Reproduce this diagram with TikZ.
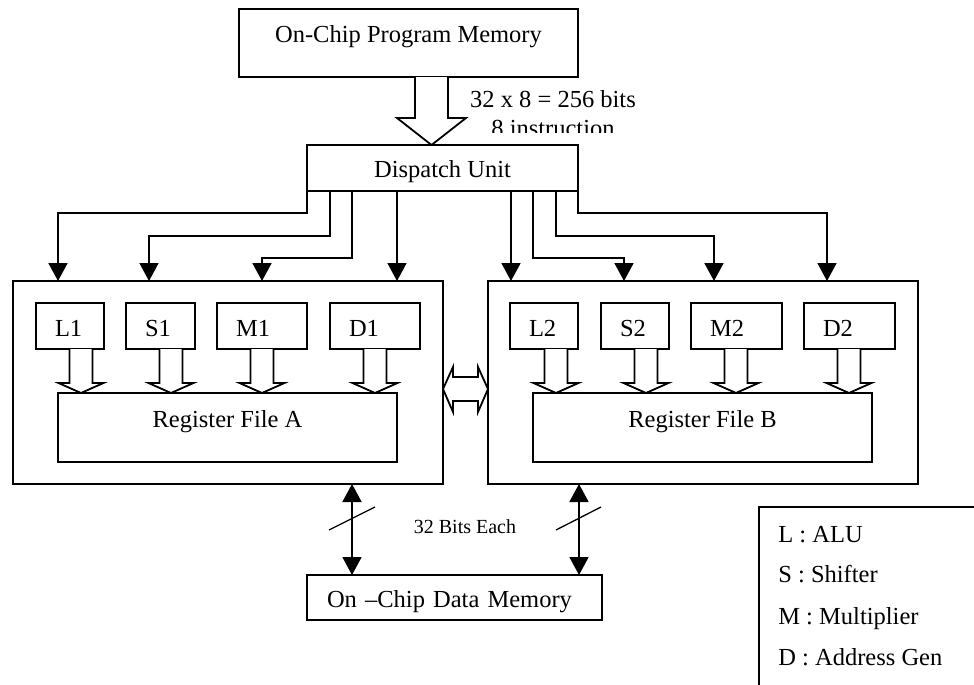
\documentclass[tikz,border=0pt]{standalone}
\usepackage{fontspec}
\setmainfont{Liberation Serif}
\usetikzlibrary{arrows.meta,calc}
\newcommand\hdown[3]{\draw[hollow] (#1-11.5,#2) -- (#1-11.5,#3-10) -- (#1-22.5,#3-10) -- (#1,#3) -- (#1+22.5,#3-10) -- (#1+11.5,#3-10) -- (#1+11.5,#2);}
\begin{document}
\begin{tikzpicture}[x=1pt,y=-1pt,
  line width=1.8pt,
  every node/.style={font=\fontsize{24.5pt}{29pt}\selectfont, outer sep=0pt},
  box/.style={draw, line width=1.8pt, inner sep=0pt},
  unitbox/.style={draw, inner xsep=19pt, inner ysep=0pt, minimum height=46pt, text height=22pt, text depth=2pt, align=left},
  arr/.style={-{Triangle[length=18pt,width=19pt]}},
  darr/.style={{Triangle[length=18pt,width=19pt]}-{Triangle[length=18pt,width=19pt]}},
  hollow/.style={draw, fill=white, line join=miter},
  slash/.style={line width=1.3pt}
]
\useasboundingbox (0,0) rectangle (974,685);

% main boxes
\node[box, minimum width=339pt, minimum height=68pt, text height=17pt, text depth=17pt] (prog) at (408.5,43) {On-Chip Program Memory};
\node[box, minimum width=271pt, minimum height=46pt, text height=22pt, text depth=4pt] (disp) at (442.5,168) {Dispatch Unit};
\node[box, minimum width=430pt, minimum height=203pt] (A) at (228,382.5) {};
\node[box, minimum width=430pt, minimum height=203pt] (B) at (703,382.5) {};

% functional units
\node[unitbox, text width=30pt] (L1) at (70,326) {L1};
\node[unitbox, text width=31pt] (S1) at (160.5,326) {S1};
\node[unitbox, text width=52pt] (M1) at (262,326) {M1};
\node[unitbox, text width=52pt] (D1) at (375,326) {D1};
\node[unitbox, text width=30pt] (L2) at (544,326) {L2};
\node[unitbox, text width=30pt] (S2) at (635,326) {S2};
\node[unitbox, text width=53pt] (M2) at (736.5,326) {M2};
\node[unitbox, text width=53pt] (D2) at (849.5,326) {D2};

% register files
\node[box, minimum width=339pt, minimum height=69pt, text height=17pt, text depth=17pt] (RFA) at (227.5,427.5) {Register File A};
\node[box, minimum width=339pt, minimum height=69pt, text height=17pt, text depth=17pt] (RFB) at (702.5,427.5) {Register File B};

% data memory
\node[box, minimum width=295pt, minimum height=45pt, text height=22pt, text depth=3pt, text width=255pt, inner xsep=20pt, align=left] (data) at (454.5,597.5) {On –Chip Data Memory};

% program memory -> dispatch block arrow
\draw[hollow] (415,77) -- (415,118) -- (397,118) -- (431.5,145) -- (466,118) -- (448,118) -- (448,77);

% label
\begin{scope}
\clip (440,80) rectangle (700,132);
\node[anchor=base] (lab1) at (553,107) {32 x 8 = 256 bits};
\node[anchor=base] (lab2) at (553,136) {8 instruction};
\end{scope}

% dispatch connectors, left side
\draw[arr] (disp.south west) -- ++(0,22) -| ($(A.north west)+(45,0)$);
\draw[arr] ($(disp.south west)+(23,0)$) -- ++(0,45) -| ($(A.north west)+(136,0)$);
\draw[arr] ($(disp.south west)+(45,0)$) -- ++(0,67) -| ($(A.north west)+(249,0)$);
\draw[arr] ($(disp.south west)+(90,0)$) -- ($(A.north west)+(384,0)$);
% right side
\draw[arr] ($(disp.south east)+(-67,0)$) -- ($(B.north west)+(23,0)$);
\draw[arr] ($(disp.south east)+(-45,0)$) -- ++(0,67) -| ($(B.north west)+(136,0)$);
\draw[arr] ($(disp.south east)+(-22,0)$) -- ++(0,45) -| ($(B.north west)+(226,0)$);
\draw[arr] (disp.south east) -- ++(0,22) -| ($(B.north west)+(339,0)$);

% unit -> register file block arrows
\hdown{81}{349}{393}
\hdown{171}{349}{393}
\hdown{262}{349}{393}
\hdown{375}{349}{393}
\hdown{556}{349}{393}
\hdown{646}{349}{393}
\hdown{736}{349}{393}
\hdown{849}{349}{393}

% double block arrow between clusters
\draw[hollow] (443,389) -- (453,367) -- (453,377) -- (478,377) -- (478,367) -- (488,389) -- (478,412) -- (478,401) -- (453,401) -- (453,412) -- cycle;

% data memory buses
\draw[darr] ($(A.south west)+(339,0)$) -- ($(data.north west)+(45,0)$);
\draw[darr] ($(B.south west)+(91,0)$) -- ($(data.north west)+(272,0)$);
\draw[slash] (329,530) -- (375,507);
\draw[slash] (556,530) -- (601,507);
\node[anchor=base, font=\fontsize{20pt}{24pt}\selectfont] (bits) at (465,533) {32 Bits Each};

% legend
\draw (759,507) rectangle (1000,720);
\node[anchor=base west] (legL) at (775,542) {L : ALU};
\node[anchor=base west] (legS) at (775,582) {S : Shifter};
\node[anchor=base west] (legM) at (775,624) {M : Multiplier};
\node[anchor=base west] (legD) at (775,665) {D : Address Gen};
\end{tikzpicture}
\end{document}
